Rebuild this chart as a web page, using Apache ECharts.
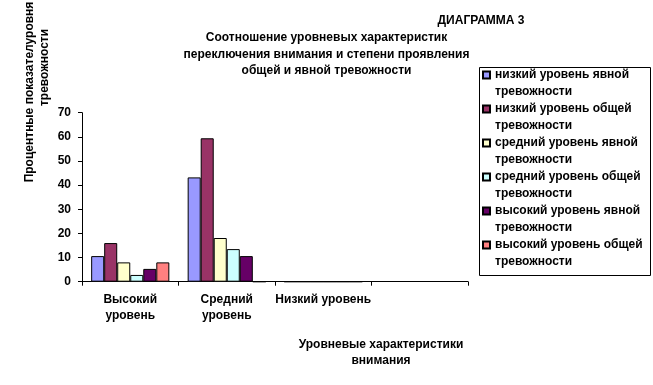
<!DOCTYPE html>
<html>
<head>
<meta charset="utf-8">
<script src="https://cdn.jsdelivr.net/npm/echarts@6/dist/echarts.min.js"></script>
<style>html,body{margin:0;padding:0;background:#fff}#c{width:653px;height:385px}</style>
</head>
<body>
<div id="c"></div>
<script>
const categories = ['Высокий\nуровень', 'Средний\nуровень', 'Низкий уровень', ''];
const seriesNames = [
  'низкий уровень явной тревожности',
  'низкий уровень общей тревожности',
  'средний уровень явной тревожности',
  'средний уровень общей тревожности',
  'высокий уровень явной тревожности',
  'высокий уровень общей тревожности'
];
const lowExplicit = [10.6, 43.2, 0, '-'];
const lowGeneral = [16, 59.4, 0, '-'];
const midExplicit = [8, 18.1, 0, '-'];
const midGeneral = [2.8, 13.5, 0, '-'];
const highExplicit = [5.3, 10.6, 0, '-'];
const highGeneral = [8, 0, 0, '-'];
const yTicks = { min: 0, max: 70, interval: 10 };
const colors = ['#9999FF', '#993366', '#FFFFCC', '#CCFFFF', '#660066', '#FF8080'];

const allData = [lowExplicit, lowGeneral, midExplicit, midGeneral, highExplicit, highGeneral];
const F = 'Arial, "Liberation Sans", sans-serif';

const chart = echarts.init(document.getElementById('c'), null, { renderer: 'canvas' });
chart.setOption({
  backgroundColor: '#fff',
  animation: false,
  color: colors,
  grid: { left: 82, right: 185, top: 112.7, bottom: 103.3, containLabel: false },
  legend: {
    orient: 'vertical',
    left: 482,
    top: 49.5,
    padding: 0,
    itemGap: -17,
    itemWidth: 7,
    itemHeight: 7,
    icon: 'rect',
    selectedMode: false,
    formatter: n => '\n' + n.replace(' тревожности', '\nтревожности'),
    textStyle: { fontFamily: F, fontWeight: 'bold', fontSize: 12, color: '#000', lineHeight: 17 },
    data: seriesNames
  },
  xAxis: {
    type: 'category',
    data: categories,
    axisLine: { lineStyle: { color: '#000', width: 1 } },
    axisTick: { show: true, length: 4, lineStyle: { color: '#000' }, alignWithLabel: false },
    axisLabel: { color: '#000', fontFamily: F, fontWeight: 'bold', fontSize: 12, lineHeight: 16, margin: 10, interval: 0 },
    splitLine: { show: false }
  },
  yAxis: {
    type: 'value',
    min: yTicks.min, max: yTicks.max, interval: yTicks.interval,
    axisLine: { show: true, lineStyle: { color: '#000', width: 1 } },
    axisTick: { show: true, length: 4, lineStyle: { color: '#000' } },
    axisLabel: { color: '#000', fontFamily: F, fontWeight: 'bold', fontSize: 12, margin: 11 },
    splitLine: { show: false }
  },
  series: seriesNames.map((n, i) => ({
    name: n,
    type: 'bar',
    data: allData[i],
    barGap: '0%',
    barCategoryGap: '19%',
    itemStyle: { color: colors[i], borderColor: '#000', borderWidth: 1 }
  })),
  graphic: [
    { type: 'rect', left: 477, top: 65, shape: { width: 171, height: 208 }, style: { fill: 'none', stroke: '#000', lineWidth: 1 }, silent: true },
    { type: 'text', x: 481, y: 21, style: { text: 'ДИАГРАММА 3', font: 'bold 12px ' + F, fill: '#000', align: 'center', verticalAlign: 'middle' } },
    { type: 'text', x: 326.5, y: 54.5, style: { text: 'Соотношение уровневых характеристик\nпереключения внимания и степени проявления\nобщей и явной тревожности', font: 'bold 12px ' + F, lineHeight: 16.5, fill: '#000', align: 'center', verticalAlign: 'middle' } },
    { type: 'text', x: 381, y: 352.5, style: { text: 'Уровневые характеристики\nвнимания', font: 'bold 12px ' + F, lineHeight: 16, fill: '#000', align: 'center', verticalAlign: 'middle' } },
    { type: 'text', x: 30, y: 92, rotation: Math.PI / 2, style: { text: 'Процентные показателуровня', font: 'bold 12px ' + F, fill: '#000', align: 'center', verticalAlign: 'middle' } },
    { type: 'text', x: 45, y: 67.5, rotation: Math.PI / 2, style: { text: 'тревожности', font: 'bold 12px ' + F, fill: '#000', align: 'center', verticalAlign: 'middle' } }
  ]
});
</script>
</body>
</html>
